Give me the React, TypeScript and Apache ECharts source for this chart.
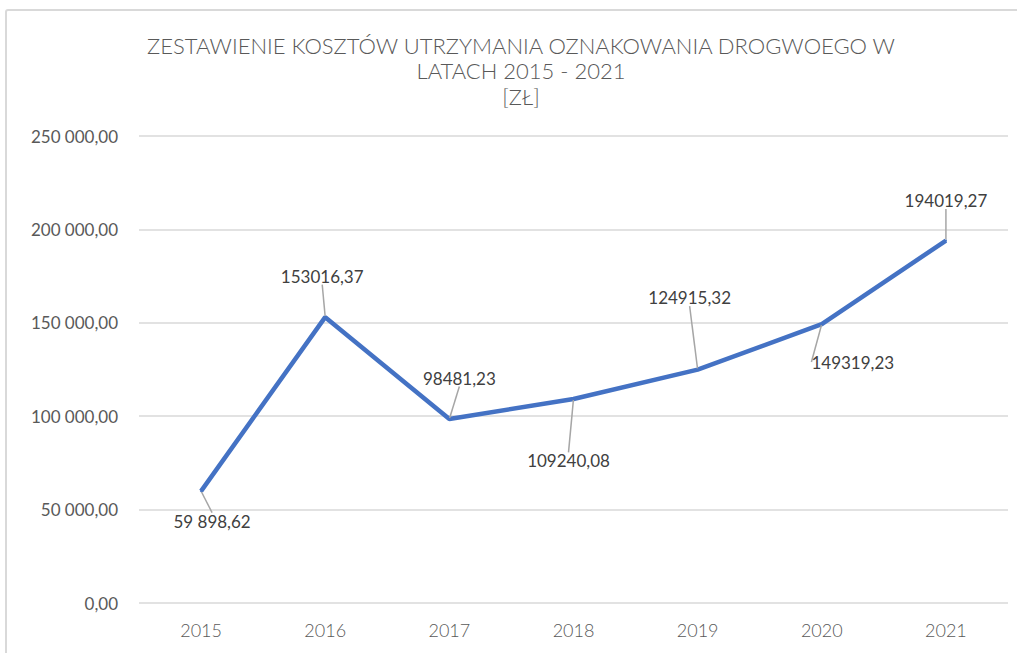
import React, { useEffect, useRef } from "react";
import * as echarts from "echarts";

const years = ["2015", "2016", "2017", "2018", "2019", "2020", "2021"];
const costs = [59898.62, 153016.37, 98481.23, 109240.08, 124915.32, 149319.23, 194019.27];
const valueLabels = ["59 898,62", "153016,37", "98481,23", "109240,08", "124915,32", "149319,23", "194019,27"];
const titleLines = [
  "ZESTAWIENIE KOSZTÓW UTRZYMANIA OZNAKOWANIA DROGWOEGO W",
  "LATACH 2015 - 2021",
  "[ZŁ]",
];
const yMin = 0;
const yMax = 250000;
const yStep = 50000;

// label offsets (dx, dy) from the point, in pixels
const labelOffsets: [number, number][] = [
  [11, 30],
  [-3, -41],
  [10, -41],
  [-5, 62],
  [-8, -72],
  [31, 38],
  [0, -40],
];

function fmt(v: number): string {
  const [i, d] = v.toFixed(2).split(".");
  return i.replace(/\B(?=(\d{3})+(?!\d))/g, " ") + "," + d;
}

export default function App() {
  const ref = useRef<HTMLDivElement>(null);
  useEffect(() => {
    if (!ref.current) return;
    const chart = echarts.init(ref.current, undefined, { renderer: "svg" });
    const font = "Lato, 'Open Sans', sans-serif";
    chart.setOption({
      animation: false,
      backgroundColor: "#ffffff",
      graphic: [
        {
          type: "rect",
          shape: { x: 6, y: 10, width: 1200, height: 900, r: 2 },
          style: { fill: "none", stroke: "#d9d9d9", lineWidth: 2 },
          silent: true,
        },
        ...titleLines.map((t, i) => ({
          type: "text",
          x: 521,
          y: 45 + i * 25.5,
          style: {
            text: t,
            fill: "#595959",
            font: `300 22px ${font}`,
            textAlign: "center",
            textVerticalAlign: "middle",
          },
          silent: true,
        })),
      ],
      grid: { left: 139, right: 9, top: 136, bottom: 50, containLabel: false },
      xAxis: {
        type: "category",
        data: years,
        boundaryGap: true,
        axisLine: { show: false },
        axisTick: { show: false },
        axisLabel: { color: "#595959", fontSize: 18, fontFamily: font, fontWeight: 300, margin: 18 },
      },
      yAxis: {
        type: "value",
        min: yMin,
        max: yMax,
        interval: yStep,
        axisLine: { show: false },
        axisTick: { show: false },
        splitLine: { lineStyle: { color: "#d9d9d9", width: 1.5 } },
        axisLabel: {
          color: "#595959",
          fontSize: 17,
          fontFamily: font,
          margin: 21,
          formatter: (v: number) => fmt(v),
        },
      },
      series: [
        {
          type: "line",
          data: costs,
          showSymbol: true,
          symbol: "circle",
          symbolSize: 2,
          itemStyle: { color: "#4472C4" },
          lineStyle: { color: "#4472C4", width: 4.5 },
          label: {
            show: true,
            position: "inside",
            color: "#404040",
            fontSize: 17,
            fontFamily: font,
            formatter: (p: any) => valueLabels[p.dataIndex],
          },
          labelLine: { show: true, lineStyle: { color: "#a6a6a6", width: 1.5 } },
          labelLayout: (p: any) => ({
            dx: labelOffsets[p.dataIndex][0],
            dy: labelOffsets[p.dataIndex][1],
          }),
        },
      ],
    });
    return () => chart.dispose();
  }, []);
  return (
    <div
      ref={ref}
      style={{ position: "fixed", left: 0, top: 0, width: 1017, height: 653 }}
    />
  );
}
